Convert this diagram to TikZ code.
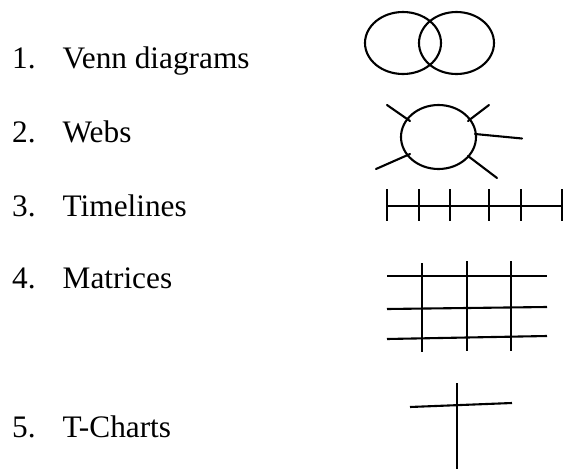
\documentclass[tikz,border=0pt]{standalone}
\usepackage{fontspec}
\setmainfont{Liberation Serif}
\begin{document}
\begin{tikzpicture}[x=1pt,y=-1pt,
  lbl/.style={anchor=base west,inner sep=0pt,font=\fontsize{31.3}{37}\selectfont},
  ink/.style={line width=2.1pt,line cap=round}]
\useasboundingbox[fill=white] (0,0) rectangle (563,469);
% labels
\node[lbl] (n1) at (12,68) {1.};
\node[lbl] (t1) at (62.5,68) {Venn diagrams};
\node[lbl] (n2) at (12,142) {2.};
\node[lbl] (t2) at (62.5,142) {Webs};
\node[lbl] (n3) at (12,216) {3.};
\node[lbl] (t3) at (62.5,216) {Timelines};
\node[lbl] (n4) at (12,288) {4.};
\node[lbl] (t4) at (62.5,288) {Matrices};
\node[lbl] (n5) at (12,437) {5.};
\node[lbl] (t5) at (62.5,437) {T-Charts};
% Venn
\draw[ink] (403,43) ellipse [x radius=38,y radius=31];
\draw[ink] (456.5,43) ellipse [x radius=37.5,y radius=31];
% Web
\draw[ink] (438.5,137) ellipse [x radius=37.5,y radius=32];
\draw[ink] (387,105) -- (410,121);
\draw[ink] (489,105) -- (468,121);
\draw[ink] (475,134) -- (522,138.5);
\draw[ink] (468,156) -- (497,178);
\draw[ink] (410,154) -- (376,169);
% Timeline
\draw[ink,line cap=butt] (387,206) -- (563,206);
\foreach \x in {387,419,450,489,521,562.5}
  \draw[ink,line cap=butt] (\x,189) -- (\x,221);
% Matrix
\draw[ink,line cap=butt] (387,276) -- (547,276);
\draw[ink,line cap=butt] (387,309) -- (547,307);
\draw[ink,line cap=butt] (387,339) -- (547,336);
\draw[ink,line cap=butt] (422,263) -- (422,352);
\draw[ink,line cap=butt] (467,261) -- (467,351);
\draw[ink,line cap=butt] (511,261) -- (511,351);
% T-chart
\draw[ink,line cap=butt] (410,407) -- (512,403);
\draw[ink,line cap=butt] (457,383) -- (457,469);
\end{tikzpicture}
\end{document}
